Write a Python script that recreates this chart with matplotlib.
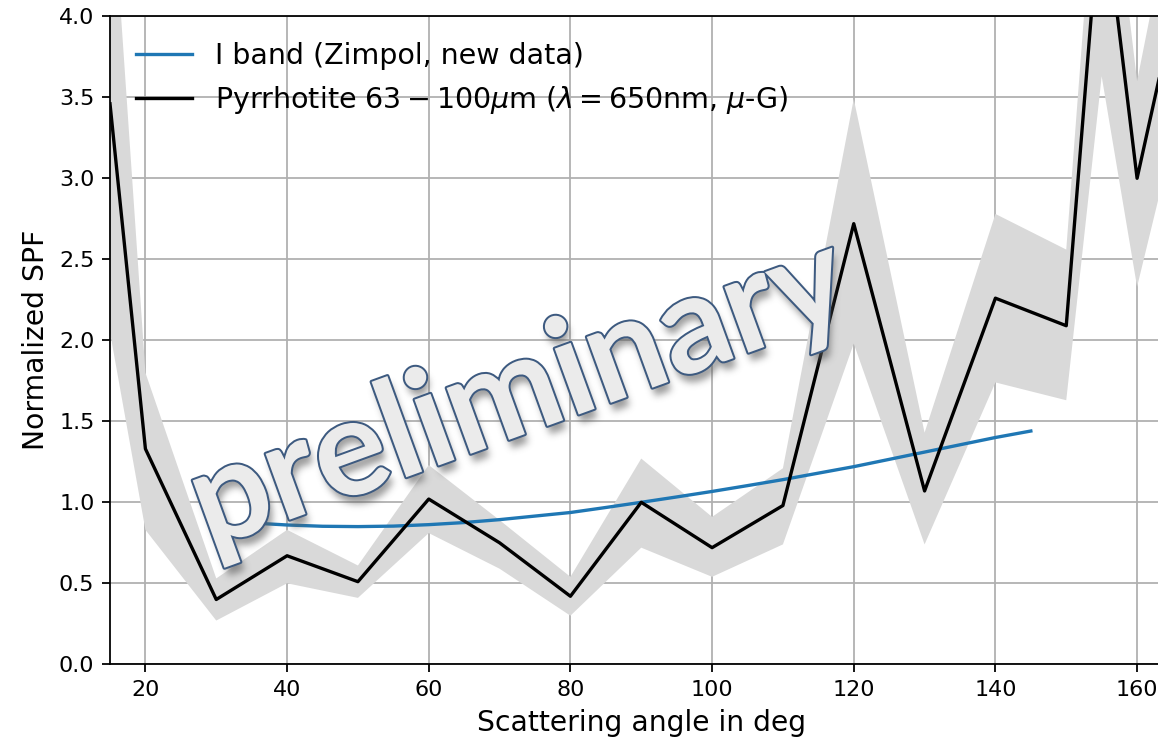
import numpy as np
import matplotlib
matplotlib.use("Agg")
import matplotlib.pyplot as plt
import matplotlib.patheffects as pe

# Measured scattering phase function (black line) and its uncertainty band
angle = [15, 20, 30, 40, 50, 60, 70, 80, 90, 100, 110, 120, 130, 140, 150, 155, 160, 165]
spf = [3.46, 1.33, 0.40, 0.67, 0.51, 1.02, 0.75, 0.42, 1.00, 0.72, 0.98, 2.72, 1.07, 2.26, 2.09, 4.80, 3.00, 3.99]
spf_upper = [5.00, 1.80, 0.53, 0.83, 0.61, 1.23, 0.89, 0.54, 1.27, 0.91, 1.21, 3.49, 1.43, 2.78, 2.56, 5.44, 3.60, 4.70]
spf_lower = [2.05, 0.83, 0.27, 0.50, 0.41, 0.81, 0.59, 0.30, 0.72, 0.54, 0.74, 1.98, 0.74, 1.74, 1.63, 3.63, 2.33, 3.23]

# I-band SPF from the new Zimpol data
zimpol_angle = [36, 40, 45, 50, 55, 60, 65, 70, 75, 80, 85, 90, 95, 100, 105, 110,
                115, 120, 125, 130, 135, 140, 145]
zimpol_spf = [0.870, 0.860, 0.852, 0.850, 0.853, 0.862, 0.875, 0.893, 0.915, 0.937, 0.968,
              1.000, 1.033, 1.067, 1.103, 1.140, 1.180, 1.220, 1.265, 1.310, 1.355, 1.400, 1.440]

xticks = [20, 40, 60, 80, 100, 120, 140, 160]
yticks = [0.0, 0.5, 1.0, 1.5, 2.0, 2.5, 3.0, 3.5, 4.0]

label_zimpol = "I band (Zimpol, new data)"
label_lab = r"Pyrrhotite $63-100\mu$m ($\lambda=$650nm, $\mu$-G)"
watermark = "preliminary"


def _gauss_kernel(sigma):
    r = max(1, int(3 * sigma))
    x = np.arange(-r, r + 1)
    k = np.exp(-0.5 * (x / sigma) ** 2)
    return k / k.sum()


class SoftShadow:
    """agg filter: offset and blur the alpha channel into a grey shadow."""

    def __init__(self, sigma_pt=2.0, offset_pt=(2.0, -2.0), alpha=0.55, color=(0.35, 0.35, 0.35)):
        self.sigma_pt = sigma_pt
        self.offset_pt = offset_pt
        self.alpha = alpha
        self.color = color

    def __call__(self, im, dpi):
        sigma = self.sigma_pt / 72 * dpi
        ox = int(round(self.offset_pt[0] / 72 * dpi))
        oy = int(round(self.offset_pt[1] / 72 * dpi))
        pad = int(3 * sigma) + max(abs(ox), abs(oy)) + 2
        src = np.pad(im, [(pad, pad), (pad, pad), (0, 0)], "constant")
        a = src[:, :, 3] * self.alpha
        k = _gauss_kernel(sigma)
        a = np.apply_along_axis(lambda v: np.convolve(v, k, mode="same"), 0, a)
        a = np.apply_along_axis(lambda v: np.convolve(v, k, mode="same"), 1, a)
        a = np.roll(a, ox, axis=1)
        a = np.roll(a, -oy, axis=0)
        out = np.empty_like(src)
        out[:, :, :3] = self.color
        out[:, :, 3] = np.clip(a, 0, 1)
        return out, -pad, -pad


W, H, DPI = 1158, 742, 160
fig = plt.figure(figsize=(W / DPI, H / DPI), dpi=DPI)
ax = fig.add_axes([110 / W, 77.7 / H, 1062.5 / W, 648 / H])

ax.fill_between(angle, spf_lower, spf_upper, color="#d9d9d9", lw=0, zorder=1)
ax.plot(zimpol_angle, zimpol_spf, color="#1f77b4", lw=1.5, label=label_zimpol, zorder=3)
ax.plot(angle, spf, color="black", lw=1.5, label=label_lab, zorder=3)

ax.set_xlim(15, 165)
ax.set_ylim(0, 4.0)
ax.set_xticks(xticks)
ax.set_yticks(yticks)
ax.set_yticklabels([f"{v:.1f}" for v in yticks])
ax.tick_params(labelsize=10)
ax.grid(True, zorder=0)
ax.set_axisbelow(True)
ax.set_xlabel("Scattering angle in deg", fontsize=12.7)
ax.set_ylabel("Normalized SPF", fontsize=12.7)
ax.legend(loc="upper left", frameon=False, fontsize=12.8, handlelength=2.0)

# Watermark with outline and soft drop shadow
wm_kw = dict(fontsize=61.5, family="Lato", fontweight="bold", rotation=20, ha="center",
             va="center", rotation_mode="anchor", transform=ax.transData)
shadow = ax.text(72.7, 1.67, watermark, color="black", zorder=9, **wm_kw)
shadow.set_agg_filter(SoftShadow(sigma_pt=1.6, offset_pt=(2.0, -2.2), alpha=0.6))
ax.text(72.7, 1.67, watermark, color="#ebebeb", zorder=10,
        path_effects=[pe.Stroke(linewidth=1.8, foreground="#3d5a80"), pe.Normal()], **wm_kw)

fig.savefig("out.png", dpi=DPI)
